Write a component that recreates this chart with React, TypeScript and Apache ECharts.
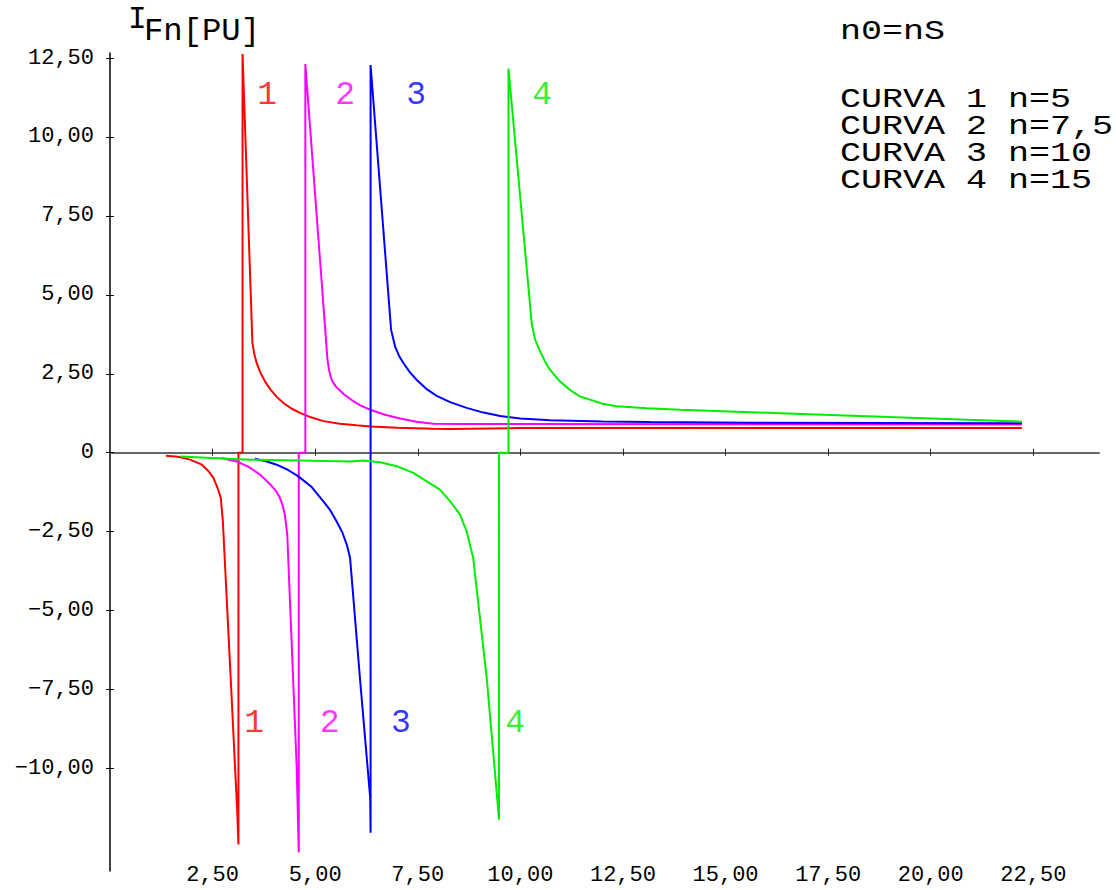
import React, { useEffect, useRef } from 'react';
import * as echarts from 'echarts';

const FONT = '"Liberation Mono", "DejaVu Sans Mono", monospace';

const xTicks = [2.5, 5, 7.5, 10, 12.5, 15, 17.5, 20, 22.5];
const yTicks = [-10, -7.5, -5, -2.5, 0, 2.5, 5, 7.5, 10, 12.5];

const curve1X = [1.36, 1.66, 1.95, 2.24, 2.39, 2.52, 2.61, 2.7, 2.72, 2.75, 2.94, 3.1, 3.13, 3.13, 3.23, 3.23, 3.47, 3.52, 3.58, 3.66, 3.78, 3.92, 4.07, 4.22, 4.42, 4.63, 4.9, 5.2, 5.6, 6.0, 6.34, 7.0, 7.87, 8.28, 10.0, 22.22];
const curve1Y = [-0.1, -0.13, -0.22, -0.38, -0.57, -0.8, -1.08, -1.43, -1.74, -2.17, -7.12, -11.35, -12.41, 0, 0, 12.63, 3.48, 3.1, 2.82, 2.55, 2.25, 1.98, 1.76, 1.58, 1.4, 1.26, 1.12, 1.0, 0.92, 0.87, 0.83, 0.79, 0.76, 0.75, 0.78, 0.78];

const curve2X = [2.71, 3.09, 3.38, 3.66, 3.9, 4.05, 4.14, 4.21, 4.26, 4.32, 4.55, 4.6, 4.6, 4.76, 4.76, 5.3, 5.34, 5.4, 5.5, 5.69, 5.9, 6.1, 6.34, 6.7, 7.07, 7.47, 7.88, 8.5, 9.09, 22.22];
const curve2Y = [-0.17, -0.28, -0.45, -0.7, -1.0, -1.22, -1.43, -1.68, -1.96, -2.6, -9.98, -12.66, 0, 0, 12.31, 2.94, 2.6, 2.31, 2.1, 1.86, 1.66, 1.5, 1.36, 1.2, 1.08, 0.98, 0.92, 0.91, 0.91, 0.89];

const curve3X = [3.53, 3.8, 4.06, 4.33, 4.59, 4.9, 5.2, 5.37, 5.52, 5.66, 5.77, 5.85, 6.09, 6.34, 6.35, 6.35, 6.85, 6.95, 7.05, 7.15, 7.3, 7.47, 7.7, 7.96, 8.29, 8.69, 9.1, 9.51, 10.0, 10.73, 12.0, 13.17, 15.6, 22.22];
const curve3Y = [-0.19, -0.27, -0.38, -0.54, -0.75, -1.07, -1.54, -1.83, -2.17, -2.52, -2.91, -3.33, -7.13, -10.93, -12.04, 12.28, 3.89, 3.35, 3.05, 2.84, 2.56, 2.31, 2.03, 1.8, 1.6, 1.42, 1.27, 1.16, 1.08, 1.03, 0.99, 0.97, 0.95, 0.93];

const curve4X = [1.71, 3.41, 4.63, 5.85, 6.17, 6.58, 6.99, 7.39, 7.72, 8.04, 8.29, 8.53, 8.69, 8.85, 9.18, 9.48, 9.48, 9.71, 9.71, 10.28, 10.36, 10.48, 10.6, 10.72, 10.96, 11.21, 11.45, 11.7, 12.0, 12.35, 13.08, 13.89, 16.33, 22.22];
const curve4Y = [-0.12, -0.22, -0.25, -0.28, -0.25, -0.3, -0.43, -0.64, -0.91, -1.17, -1.54, -1.96, -2.49, -3.33, -7.13, -11.62, 0, 0, 12.17, 4.05, 3.58, 3.21, 2.89, 2.63, 2.26, 1.99, 1.78, 1.68, 1.55, 1.47, 1.41, 1.36, 1.25, 0.98];

const curveNames = ['1', '2', '3', '4'];
const curveColors = ['#ff0000', '#ff00ff', '#0000ff', '#00ee00'];

// curve number annotations, in data units
const topLabelX = [3.83, 5.73, 7.46, 10.53];
const topLabelY = [11.3, 11.3, 11.3, 11.3];
const bottomLabelX = [3.51, 5.35, 7.09, 9.87];
const bottomLabelY = [-8.58, -8.58, -8.58, -8.58];

const yTitleMain = 'I';
const yTitleSub = 'Fn[PU]';
const headerText = 'n0=nS';
const legendLines = ['CURVA 1 n=5', 'CURVA 2 n=7,5', 'CURVA 3 n=10', 'CURVA 4 n=15'];

const fmt = (v: number) => {
  if (Math.abs(v) < 1e-9) return '0';
  return (v < 0 ? '\u2212' : '') + Math.abs(v).toFixed(2).replace('.', ',');
};

const zip = (xs: number[], ys: number[]) => xs.map((x, i) => [x, ys[i]]);

export default function App() {
  const ref = useRef<HTMLDivElement>(null);
  useEffect(() => {
    document.body.style.margin = '0';
    const chart = echarts.init(ref.current!, undefined, { renderer: 'svg' });
    const curves = [
      zip(curve1X, curve1Y),
      zip(curve2X, curve2Y),
      zip(curve3X, curve3Y),
      zip(curve4X, curve4Y),
    ];
    const series: any[] = curves.map((d, i) => ({
      type: 'line',
      name: 'CURVA ' + curveNames[i],
      data: d,
      xAxisIndex: 0,
      yAxisIndex: 0,
      showSymbol: false,
      symbol: 'none',
      lineStyle: { color: curveColors[i], width: 2 },
      itemStyle: { color: curveColors[i] },
      z: 3 + i,
    }));
    const labelData: any[] = [];
    curveNames.forEach((n, i) => {
      labelData.push({ value: [topLabelX[i], topLabelY[i]], name: n, label: { color: curveColors[i] } });
      labelData.push({ value: [bottomLabelX[i], bottomLabelY[i]], name: n, label: { color: curveColors[i] } });
    });
    series.push({
      type: 'scatter',
      data: labelData,
      symbolSize: 1,
      itemStyle: { color: 'rgba(0,0,0,0)' },
      silent: true,
      z: 10,
      label: {
        show: true,
        position: 'inside',
        formatter: '{b}',
        fontFamily: FONT,
        fontSize: 33,
      },
    });

    const xBase = { type: 'value', min: 0, max: 24.1, position: 'bottom', splitLine: { show: false } };
    const yBase = { type: 'value', min: -13.25, max: 12.66, position: 'left', splitLine: { show: false } };

    const textStyle = (size: number) => ({
      font: `${size}px ${FONT}`,
      fontFamily: FONT,
      fontSize: size,
      lineHeight: Math.min(size, 26),
      fill: '#000',
      textAlign: 'left',
      textVerticalAlign: 'middle',
      align: 'left',
      verticalAlign: 'middle',
    });

    const graphic: any[] = [
      { type: 'text', x: 128, y: 19, style: { ...textStyle(31), text: yTitleMain } },
      { type: 'text', x: 144, y: 32, scaleX: 1.04, style: { ...textStyle(31), text: yTitleSub } },
      { type: 'text', x: 840, y: 32, scaleX: 1.25, style: { ...textStyle(28), text: headerText } },
      ...legendLines.map((t, i) => ({
        type: 'text',
        x: 840,
        y: 100 + i * 27,
        scaleX: 1.25,
        style: { ...textStyle(28), text: t },
      })),
    ];

    chart.setOption({
      animation: false,
      backgroundColor: '#ffffff',
      grid: { left: 110, right: 17, top: 53, bottom: 19, containLabel: false },
      xAxis: [
        {
          ...xBase,
          axisLine: { show: true, onZero: true, onZeroAxisIndex: 0, lineStyle: { color: '#666666', width: 2 } },
          axisTick: { show: true, inside: true, length: 4, customValues: xTicks, lineStyle: { color: '#222', width: 1 } },
          axisLabel: { show: false },
        },
        {
          ...xBase,
          axisLine: { show: false, onZero: true, onZeroAxisIndex: 0 },
          axisTick: { show: true, inside: false, length: 3, customValues: xTicks, lineStyle: { color: '#222', width: 1 } },
          axisLabel: { show: false },
        },
        {
          ...xBase,
          axisLine: { show: false, onZero: false },
          axisTick: { show: false },
          axisLabel: {
            show: true,
            customValues: xTicks,
            formatter: fmt,
            fontFamily: FONT,
            fontSize: 22,
            color: '#000',
            margin: 4,
            verticalAlign: 'middle',
          },
        },
      ],
      yAxis: [
        {
          ...yBase,
          axisLine: { show: true, onZero: false, lineStyle: { color: '#000', width: 1.5 } },
          axisTick: { show: true, inside: true, length: 4, customValues: yTicks, lineStyle: { color: '#000', width: 1 } },
          axisLabel: {
            show: true,
            customValues: yTicks,
            formatter: fmt,
            fontFamily: FONT,
            fontSize: 22,
            color: '#000',
            margin: 16,
          },
        },
        {
          ...yBase,
          axisLine: { show: false, onZero: false },
          axisTick: { show: true, inside: false, length: 4, customValues: yTicks, lineStyle: { color: '#000', width: 1 } },
          axisLabel: { show: false },
        },
      ],
      series,
      graphic,
    });
    return () => chart.dispose();
  }, []);
  return <div ref={ref} style={{ position: 'absolute', left: 0, top: 0, width: 1116, height: 890 }} />;
}
